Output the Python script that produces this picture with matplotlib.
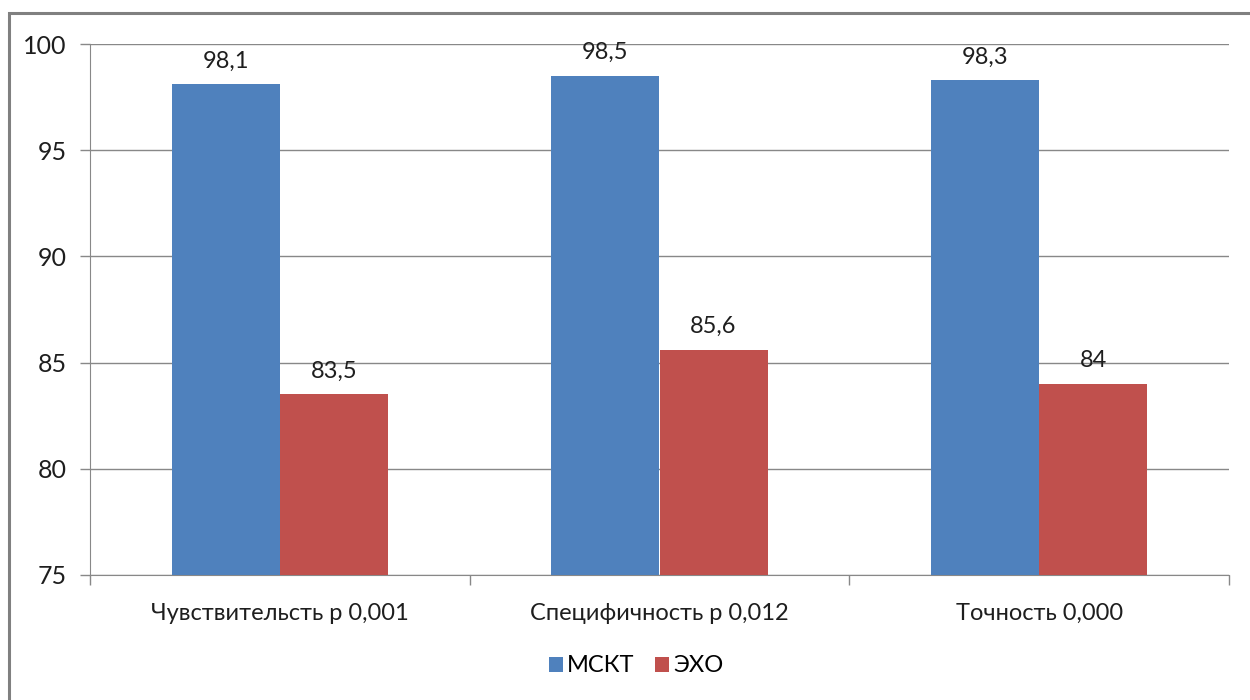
import matplotlib
matplotlib.use("Agg")
import matplotlib.pyplot as plt
from matplotlib.patches import Rectangle
import numpy as np

categories = ["Чувствительсть р 0,001", "Специфичность р 0,012", "Точность 0,000"]
mskt = [98.1, 98.5, 98.3]
echo = [83.5, 85.6, 84.0]
mskt_labels = ["98,1", "98,5", "98,3"]
echo_labels = ["83,5", "85,6", "84"]
yticks = [75, 80, 85, 90, 95, 100]

plt.rcParams["font.family"] = ["Lato", "DejaVu Sans"]

BLUE = "#4F81BD"
RED = "#C0504D"
GRID = "#888888"
TEXT = "#1e1e1e"

fig = plt.figure(figsize=(12.5, 7), dpi=100)
fig.patches.append(Rectangle((9 / 1250, -0.05), 1.2, 1 - 13 / 700 + 0.05,
                             transform=fig.transFigure, fill=False,
                             edgecolor="#808080", linewidth=2.2))

ax = fig.add_axes([90 / 1250, 1 - 575 / 700, (1229 - 90) / 1250, (575 - 44) / 700])

x = np.arange(len(categories))
w = 0.285
ax.bar(x - w / 2, [v - 75 for v in mskt], w, bottom=75, color=BLUE, label="МСКТ", zorder=3)
ax.bar(x + w / 2, [v - 75 for v in echo], w, bottom=75, color=RED, label="ЭХО", zorder=3)

for xi, v, t in zip(x - w / 2, mskt, mskt_labels):
    ax.text(xi, v + 0.6, t, ha="center", va="bottom", fontsize=17, color=TEXT)
for xi, v, t in zip(x + w / 2, echo, echo_labels):
    ax.text(xi, v + 0.6, t, ha="center", va="bottom", fontsize=17, color=TEXT)

ax.set_xlim(-0.5, len(categories) - 0.5)
ax.set_ylim(75, 100)
ax.set_yticks(yticks)
ax.set_yticklabels([str(v) for v in yticks], fontsize=18, color=TEXT)
ax.yaxis.grid(True, color=GRID, linewidth=1.0, zorder=0)
ax.tick_params(axis="y", length=7, width=1, color=GRID, pad=10)

ax.set_xticks(np.arange(-0.5, len(categories)), minor=False)
ax.set_xticklabels([])
ax.set_xticks(x, minor=True)
ax.set_xticklabels(categories, minor=True, fontsize=17, color=TEXT)
ax.tick_params(axis="x", which="major", length=7, width=1, color=GRID, direction="out")
ax.tick_params(axis="x", which="minor", length=0, pad=20)

for s in ["top", "right"]:
    ax.spines[s].set_visible(False)
ax.spines["left"].set_color(GRID)
ax.spines["bottom"].set_color(GRID)

fig.legend(handles=[ax.containers[0], ax.containers[1]],
           labels=["МСКТ", "ЭХО"], loc="center", bbox_to_anchor=(636 / 1250, 1 - 666 / 700),
           ncol=2, frameon=False, fontsize=17, handlelength=0.6, handleheight=0.6,
           handletextpad=0.15, columnspacing=0.9)

fig.savefig("out.png", dpi=100, facecolor="white")
